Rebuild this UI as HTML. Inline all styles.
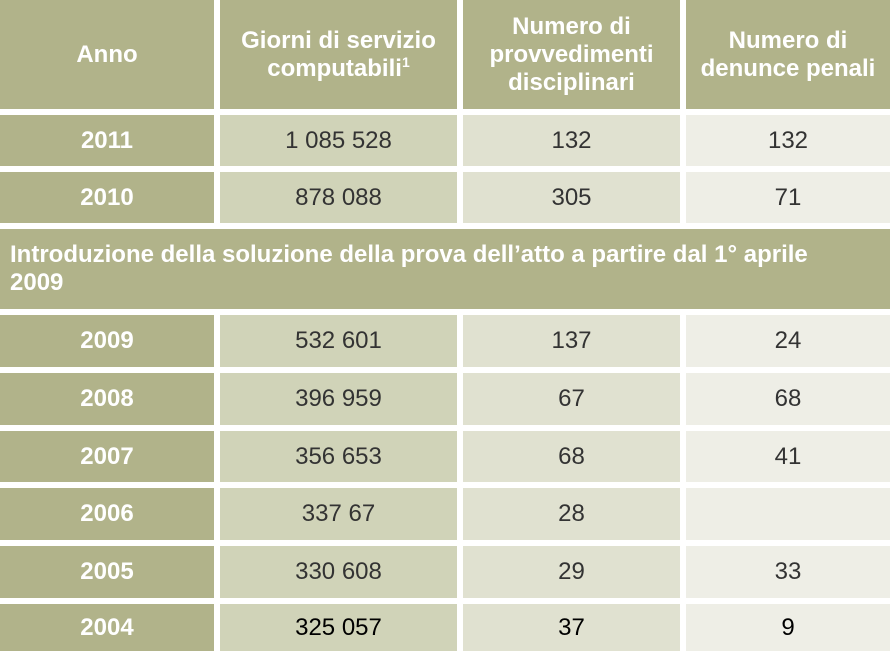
<!DOCTYPE html>
<html><head><style>
body{margin:0;width:890px;height:651px;background:#fff;position:relative;overflow:hidden;font-family:"Liberation Sans",Arial,sans-serif}
.c{position:absolute;display:flex;align-items:center;justify-content:center;text-align:center;font-size:24px;color:#333;box-sizing:border-box}
.h{background:#b1b38a;color:#fff;font-weight:bold;line-height:28px;font-size:24px}
.a{background:#d0d3b8}.b{background:#e0e1d0}.d{background:#eeeee6}
sup{font-size:14px;line-height:0;vertical-align:super}
</style></head><body>
<div class="c h" style="left:0;top:0;width:214px;height:109px"><span>Anno</span></div>
<div class="c h" style="left:220px;top:0;width:237px;height:109px"><span>Giorni di servizio<br>computabili<sup>1</sup></span></div>
<div class="c h" style="left:463px;top:0;width:217px;height:109px"><span>Numero di<br>provvedimenti<br>disciplinari</span></div>
<div class="c h" style="left:686px;top:0;width:204px;height:109px"><span>Numero di<br>denunce penali</span></div>

<div class="c h" style="left:0;top:115px;width:214px;height:51px">2011</div>
<div class="c a" style="left:220px;top:115px;width:237px;height:51px">1 085 528</div>
<div class="c b" style="left:463px;top:115px;width:217px;height:51px">132</div>
<div class="c d" style="left:686px;top:115px;width:204px;height:51px">132</div>

<div class="c h" style="left:0;top:172px;width:214px;height:51px">2010</div>
<div class="c a" style="left:220px;top:172px;width:237px;height:51px">878 088</div>
<div class="c b" style="left:463px;top:172px;width:217px;height:51px">305</div>
<div class="c d" style="left:686px;top:172px;width:204px;height:51px">71</div>

<div class="c h" style="left:0;top:229px;width:890px;height:80px;justify-content:flex-start;text-align:left;padding-left:10px;padding-right:20px"><span>Introduzione della soluzione della prova dell’atto a partire dal 1° aprile<br>2009</span></div>

<div class="c h" style="left:0;top:315px;width:214px;height:52px">2009</div>
<div class="c a" style="left:220px;top:315px;width:237px;height:52px">532 601</div>
<div class="c b" style="left:463px;top:315px;width:217px;height:52px">137</div>
<div class="c d" style="left:686px;top:315px;width:204px;height:52px">24</div>

<div class="c h" style="left:0;top:373px;width:214px;height:52px">2008</div>
<div class="c a" style="left:220px;top:373px;width:237px;height:52px">396 959</div>
<div class="c b" style="left:463px;top:373px;width:217px;height:52px">67</div>
<div class="c d" style="left:686px;top:373px;width:204px;height:52px">68</div>

<div class="c h" style="left:0;top:431px;width:214px;height:51px">2007</div>
<div class="c a" style="left:220px;top:431px;width:237px;height:51px">356 653</div>
<div class="c b" style="left:463px;top:431px;width:217px;height:51px">68</div>
<div class="c d" style="left:686px;top:431px;width:204px;height:51px">41</div>

<div class="c h" style="left:0;top:488px;width:214px;height:52px">2006</div>
<div class="c a" style="left:220px;top:488px;width:237px;height:52px">337 67</div>
<div class="c b" style="left:463px;top:488px;width:217px;height:52px">28</div>
<div class="c d" style="left:686px;top:488px;width:204px;height:52px"></div>

<div class="c h" style="left:0;top:546px;width:214px;height:52px">2005</div>
<div class="c a" style="left:220px;top:546px;width:237px;height:52px">330 608</div>
<div class="c b" style="left:463px;top:546px;width:217px;height:52px">29</div>
<div class="c d" style="left:686px;top:546px;width:204px;height:52px">33</div>

<div class="c h" style="left:0;top:604px;width:214px;height:47px">2004</div>
<div class="c a" style="left:220px;top:604px;width:237px;height:47px;color:#000">325 057</div>
<div class="c b" style="left:463px;top:604px;width:217px;height:47px;color:#000">37</div>
<div class="c d" style="left:686px;top:604px;width:204px;height:47px;color:#000">9</div>
</body></html>
